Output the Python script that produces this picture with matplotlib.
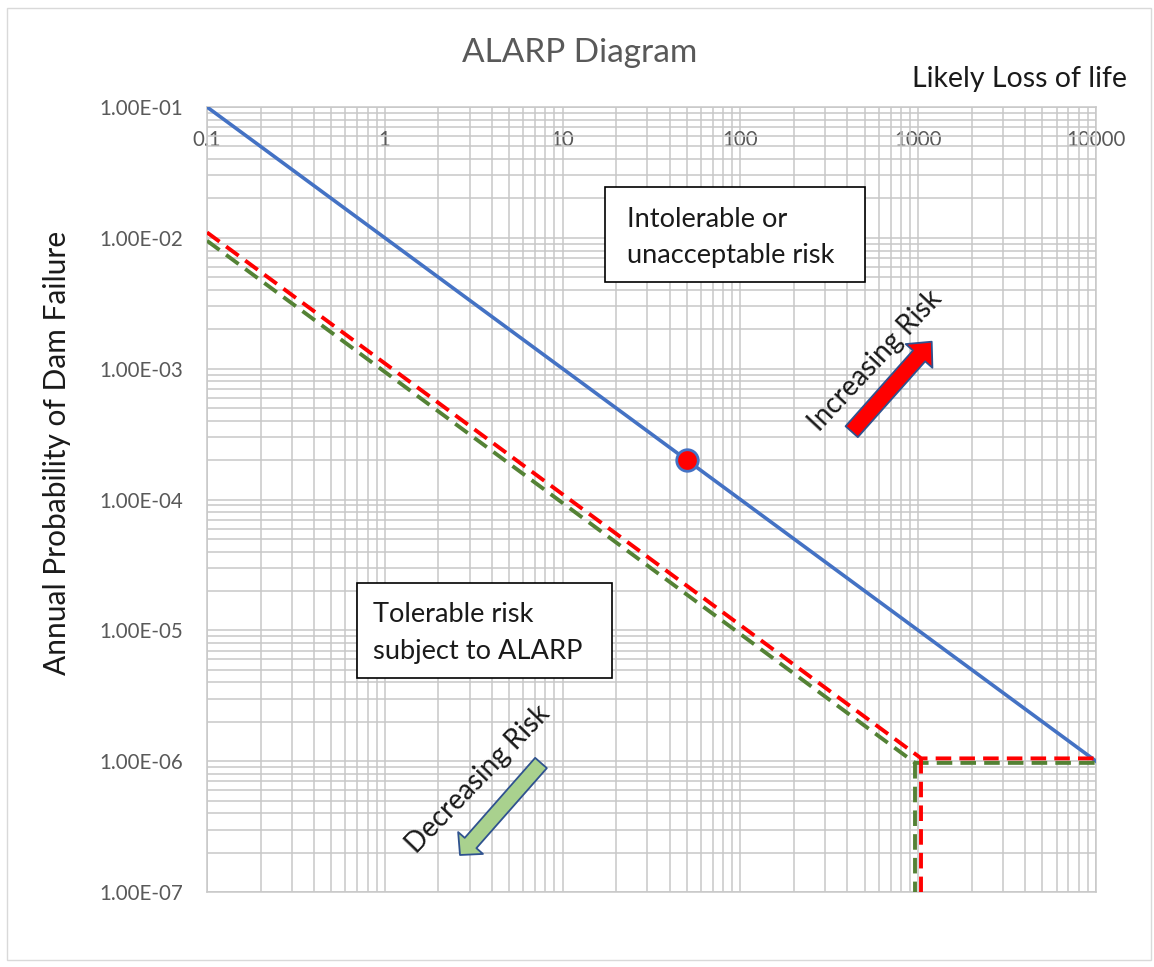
import matplotlib
matplotlib.use("Agg")
import matplotlib.pyplot as plt
from matplotlib.patches import Rectangle, FancyArrowPatch
from matplotlib.ticker import FixedLocator, LogLocator, FuncFormatter, NullFormatter

plt.rcParams['font.family'] = ['Lato', 'DejaVu Sans']

W, H = 1154, 967

# limit lines (loss of life vs annual probability)
blue_x = [0.1, 10000]
blue_y = [1e-1, 1e-6]

red_x = [0.1, 1040, 10000]
red_y = [1.1e-2, 1.05e-6, 1.05e-6]
red_drop_x = [1040, 1040]
red_drop_y = [1.05e-6, 1e-7]

green_x = [0.1, 960, 10000]
green_y = [9.5e-3, 0.97e-6, 0.97e-6]
green_drop_x = [960, 960]
green_drop_y = [0.97e-6, 1e-7]

point_x = [50]
point_y = [2e-4]

x_ticks = [0.1, 1, 10, 100, 1000, 10000]
x_labels = ['0.1', '1', '10', '100', '1000', '10000']
y_ticks = [1e-7, 1e-6, 1e-5, 1e-4, 1e-3, 1e-2, 1e-1]


def px(x, y):
    return x / W, 1 - y / H


fig = plt.figure(figsize=(W / 100, H / 100), dpi=100)
fig.patches.append(Rectangle(px(7, 960), 1144 / W, 952 / H, transform=fig.transFigure,
                             fill=False, edgecolor='#d9d9d9', lw=1))

ax = fig.add_axes([207 / W, 75 / H, 889 / W, 785 / H])
ax.set_xscale('log')
ax.set_yscale('log')
ax.set_xlim(0.1, 10000)
ax.set_ylim(1e-7, 1e-1)

ax.xaxis.set_major_locator(FixedLocator(x_ticks))
ax.xaxis.set_major_formatter(FuncFormatter(lambda v, p: x_labels[x_ticks.index(v)] if v in x_ticks else ''))
ax.xaxis.set_minor_locator(LogLocator(base=10, subs=range(2, 10), numticks=20))
ax.xaxis.set_minor_formatter(NullFormatter())
ax.yaxis.set_major_locator(FixedLocator(y_ticks))
ax.yaxis.set_major_formatter(FuncFormatter(lambda v, p: f"{v:.2E}"))
ax.yaxis.set_minor_locator(LogLocator(base=10, subs=range(2, 10), numticks=20))
ax.yaxis.set_minor_formatter(NullFormatter())

ax.tick_params(axis='x', which='both', length=0, top=False, bottom=False,
               labeltop=True, labelbottom=False, pad=-31, labelsize=14.8, labelcolor='#595959')
ax.tick_params(axis='y', which='both', length=0, pad=17, labelsize=14.8, labelcolor='#595959')

ax.grid(True, which='both', color='#c8c8c8', lw=1.1)
ax.set_axisbelow(True)
for s in ax.spines.values():
    s.set_color('#c8c8c8')
    s.set_linewidth(1.1)

ax.plot(blue_x, blue_y, color='#4472c4', lw=2.6, zorder=3)
dash = (0, (4.0, 2.1))
ax.plot(green_x, green_y, color='#548235', lw=2.8, linestyle=dash, zorder=3)
ax.plot(green_drop_x, green_drop_y, color='#548235', lw=2.8, linestyle=dash, zorder=3)
ax.plot(red_x, red_y, color='#ff0000', lw=2.8, linestyle=dash, zorder=3)
ax.plot(red_drop_x, red_drop_y, color='#ff0000', lw=2.8, linestyle=dash, zorder=3)
ax.plot(point_x, point_y, 'o', ms=15.5, mfc='#ff0000', mec='#4472c4', mew=2, zorder=4)

# zone labels
for (bx, by, bw, bh), lines, tx, baselines in [
        ((605, 187, 260, 95), ['Intolerable or', 'unacceptable risk'], 627, [226.7, 263]),
        ((357, 583, 255, 95), ['Tolerable risk', 'subject to ALARP'], 373, [622, 659])]:
    fig.patches.append(Rectangle(px(bx, by + bh), bw / W, bh / H, transform=fig.transFigure,
                                 facecolor='white', edgecolor='black', lw=1.2, zorder=5))
    for line, b in zip(lines, baselines):
        fig.text(*px(tx, b), line, fontsize=19.6, color='#1a1a1a', va='baseline', ha='left', zorder=6)

# risk direction arrows
for tail, tip, fc, hw, hl, tw in [((851.7, 431.7), (931.7, 341.7), '#ff0000', 25.7, 13.7, 11.8),
                                  ((541, 763), (460, 855), '#a9d18e', 23.8, 11.5, 11.2)]:
    fig.patches.append(FancyArrowPatch(px(*tail), px(*tip), transform=fig.transFigure,
                                       arrowstyle=f'simple,head_width={hw},head_length={hl},tail_width={tw}',
                                       mutation_scale=1, shrinkA=0, shrinkB=0,
                                       facecolor=fc, edgecolor='#2f528f', lw=1.3, zorder=5))
fig.text(*px(875, 360.5), 'Increasing Risk', fontsize=20, color='#1a1a1a', rotation=47,
         ha='center', va='center', rotation_mode='anchor')
fig.text(*px(478, 779), 'Decreasing Risk', fontsize=20, color='#1a1a1a', rotation=46,
         ha='center', va='center', rotation_mode='anchor')

fig.text(*px(580, 61.7), 'ALARP Diagram', fontsize=24, color='#595959', ha='center', va='baseline')
fig.text(*px(1127, 86.7), 'Likely Loss of life', fontsize=20.5, color='#1a1a1a', ha='right', va='baseline')
fig.text(*px(57, 453), 'Annual Probability of Dam Failure', fontsize=21.5, color='#1a1a1a',
         rotation=90, ha='center', va='center')

fig.savefig('out.png', dpi=100)
